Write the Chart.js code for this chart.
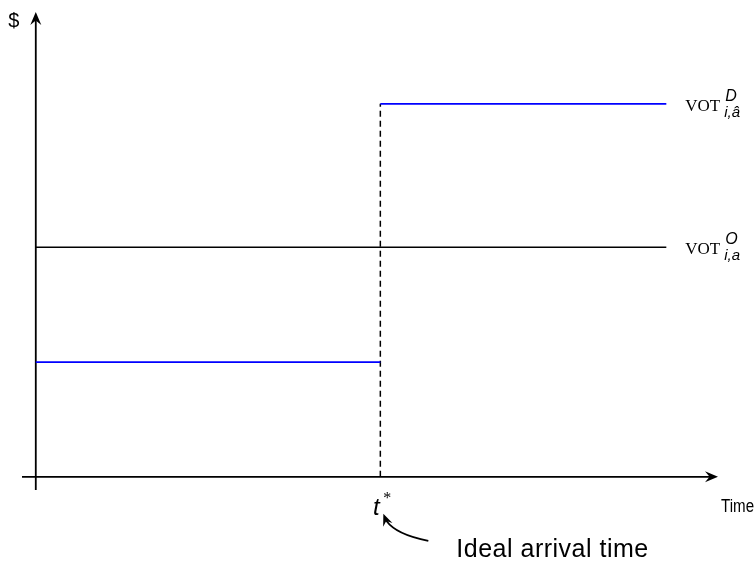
<!DOCTYPE html>
<html>
<head>
<meta charset="utf-8">
<title>Value of time around the ideal arrival time</title>
<script src="https://cdn.jsdelivr.net/npm/chart.js@4/dist/chart.umd.min.js"></script>
<style>
    html, body { margin: 0; padding: 0; background: #fff; }
    #wrap { width: 754px; height: 561px; }
</style>
</head>
<body>
<div id="wrap"><canvas id="votChart" width="754" height="561"></canvas></div>
<script>
(function () {
    'use strict';

    // x values: start of the day, ideal arrival time t*, end of the horizon
    var timePoints = [0, 5, 9.15];
    // value of time levels (arbitrary $ units)
    var votOrigin = [4, 4];        // flat, whole horizon
    var votDest = [2, 6.5];        // before t*, after t*
    var axisRange = { xMin: -0.2, xMax: 9.9, yMin: -0.23, yMax: 8.1 };

    var sans = '"Liberation Sans", Arial, sans-serif';
    var serif = '"Liberation Serif", "Times New Roman", serif';

    function seg(x0, x1, y0, y1) {
        return [{ x: x0, y: y0 }, { x: x1, y: y1 }];
    }

    // stealth style arrow head, tip at (x, y), pointing along angle a
    function arrowHead(ctx, x, y, a, len, half) {
        ctx.save();
        ctx.translate(x, y);
        ctx.rotate(a);
        ctx.beginPath();
        ctx.moveTo(0, 0);
        ctx.lineTo(-len, -half);
        ctx.lineTo(-len * 0.65, 0);
        ctx.lineTo(-len, half);
        ctx.closePath();
        ctx.fill();
        ctx.restore();
    }

    var axesAndLabels = {
        id: 'axesAndLabels',
        beforeDatasetsDraw: function (chart) {
            var ctx = chart.ctx;
            var xs = chart.scales.x, ys = chart.scales.y;
            var x0 = xs.getPixelForValue(0), y0 = ys.getPixelForValue(0);
            ctx.save();
            ctx.strokeStyle = '#000';
            ctx.fillStyle = '#000';
            ctx.lineWidth = 1.8;
            ctx.beginPath();
            ctx.moveTo(xs.left, y0);
            ctx.lineTo(xs.right - 5, y0);
            ctx.moveTo(x0, ys.bottom);
            ctx.lineTo(x0, ys.top + 5);
            ctx.stroke();
            arrowHead(ctx, xs.right, y0, 0, 13, 5.5);
            arrowHead(ctx, x0, ys.top, -Math.PI / 2, 13, 5.5);
            ctx.restore();
        },
        afterDatasetsDraw: function (chart) {
            var ctx = chart.ctx;
            var xs = chart.scales.x, ys = chart.scales.y;
            var x0 = xs.getPixelForValue(0), y0 = ys.getPixelForValue(0);
            var xt = xs.getPixelForValue(timePoints[1]);
            var xe = xs.getPixelForValue(timePoints[2]);
            ctx.save();
            ctx.fillStyle = '#000';
            ctx.strokeStyle = '#000';
            ctx.textBaseline = 'alphabetic';

            // axis names
            ctx.font = '20px ' + sans;
            ctx.textAlign = 'center';
            ctx.fillText('$', x0 - 22, ys.top + 15);
            ctx.textAlign = 'left';
            ctx.font = '18px ' + sans;
            ctx.save();
            ctx.translate(xs.right + 3, y0 + 35);
            ctx.scale(0.84, 1);
            ctx.fillText('Time', 0, 0);
            ctx.restore();

            // t* under the x axis
            ctx.font = 'italic 24px ' + sans;
            ctx.textAlign = 'center';
            ctx.fillText('t', xt - 4, y0 + 38);
            ctx.font = '16px ' + serif;
            ctx.fillText('*', xt + 7, y0 + 26);

            // note with curved arrow
            ctx.font = '25px ' + sans;
            ctx.textAlign = 'left';
            if ('letterSpacing' in ctx) ctx.letterSpacing = '0.5px';
            ctx.fillText('Ideal arrival time', xt + 76, y0 + 80);
            if ('letterSpacing' in ctx) ctx.letterSpacing = '0px';
            ctx.lineWidth = 1.8;
            ctx.beginPath();
            ctx.moveTo(xt + 48, y0 + 64);
            ctx.quadraticCurveTo(xt + 16, y0 + 58, xt + 6, y0 + 44);
            ctx.stroke();
            arrowHead(ctx, xt + 3, y0 + 37, Math.atan2(-5, -2), 12, 5);

            // VOT labels at the right end of the lines
            function votLabel(y, sup, sub) {
                var lx = xe + 19;
                ctx.textAlign = 'left';
                ctx.font = '17px ' + serif;
                ctx.fillText('VOT', lx, y + 7);
                var w = ctx.measureText('VOT').width;
                ctx.font = 'italic 16px ' + sans;
                ctx.fillText(sup, lx + w + 5, y - 3);
                ctx.font = 'italic 15px ' + sans;
                ctx.fillText(sub, lx + w + 4, y + 13);
            }
            votLabel(ys.getPixelForValue(votDest[1]), 'D', 'i,\u00e2');
            votLabel(ys.getPixelForValue(votOrigin[0]), 'O', 'i,a');
            ctx.restore();
        }
    };

    new Chart(document.getElementById('votChart').getContext('2d'), {
        type: 'line',
        data: {
            datasets: [
                {
                    label: 'VOT origin',
                    data: seg(timePoints[0], timePoints[2], votOrigin[0], votOrigin[1]),
                    borderColor: '#000',
                    borderWidth: 1.5
                },
                {
                    label: 'VOT dest, early',
                    data: seg(timePoints[0], timePoints[1], votDest[0], votDest[0]),
                    borderColor: '#0000ff',
                    borderWidth: 1.7
                },
                {
                    label: 'VOT dest, late',
                    data: seg(timePoints[1], timePoints[2], votDest[1], votDest[1]),
                    borderColor: '#0000ff',
                    borderWidth: 1.7
                },
                {
                    label: 't*',
                    data: seg(timePoints[1], timePoints[1], 0, votDest[1]),
                    borderColor: '#000',
                    borderWidth: 1.5,
                    borderDash: [6, 4]
                }
            ]
        },
        options: {
            responsive: false,
            animation: false,
            events: [],
            elements: { point: { radius: 0 }, line: { tension: 0 } },
            layout: { padding: { left: 22, right: 36, top: 12, bottom: 71 } },
            plugins: { legend: { display: false }, tooltip: { enabled: false } },
            scales: {
                x: { type: 'linear', display: false, min: axisRange.xMin, max: axisRange.xMax },
                y: { type: 'linear', display: false, min: axisRange.yMin, max: axisRange.yMax }
            }
        },
        plugins: [axesAndLabels]
    });
})();
</script>
</body>
</html>
